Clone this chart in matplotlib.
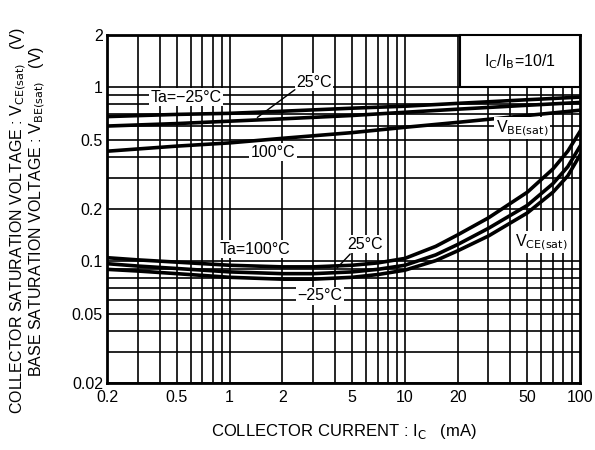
import numpy as np
import matplotlib
matplotlib.use("Agg")
import matplotlib.pyplot as plt
from matplotlib.ticker import FixedLocator, NullFormatter
from matplotlib.patches import Rectangle

plt.rcParams['font.family'] = ['Liberation Sans Narrow', 'Liberation Sans', 'DejaVu Sans']

# ---------------- Datos ----------------
x_vbe = [0.2, 0.5, 1, 2, 5, 10, 20, 50, 100]
vbe_m25 = [0.68, 0.70, 0.71, 0.73, 0.76, 0.78, 0.81, 0.85, 0.88]
vbe_25 = [0.60, 0.62, 0.64, 0.66, 0.69, 0.72, 0.75, 0.79, 0.82]
vbe_100 = [0.43, 0.46, 0.48, 0.51, 0.55, 0.59, 0.63, 0.69, 0.74]

x_vce = [0.2, 0.3, 0.5, 1, 2, 3, 5, 7, 10, 15, 20, 30, 50, 70, 85, 100]
vce_100 = [0.105, 0.102, 0.099, 0.095, 0.093, 0.093, 0.095, 0.098, 0.104, 0.122, 0.142, 0.178, 0.25, 0.34, 0.43, 0.56]
vce_25 = [0.097, 0.094, 0.091, 0.087, 0.085, 0.085, 0.087, 0.090, 0.095, 0.109, 0.125, 0.155, 0.21, 0.28, 0.35, 0.46]
vce_m25 = [0.090, 0.088, 0.085, 0.081, 0.079, 0.079, 0.081, 0.084, 0.089, 0.101, 0.115, 0.14, 0.19, 0.25, 0.31, 0.41]

x_ticks = [0.2, 0.5, 1, 2, 5, 10, 20, 50, 100]
x_labels = ["0.2", "0.5", "1", "2", "5", "10", "20", "50", "100"]
y_ticks = [0.02, 0.05, 0.1, 0.2, 0.5, 1, 2]
y_labels = ["0.02", "0.05", "0.1", "0.2", "0.5", "1", "2"]

# líneas de la cuadrícula (1..9 por década)
x_grid = [m * 10.0**e for e in (-1, 0, 1) for m in range(1, 10)]
y_grid = [m * 10.0**e for e in (-2, -1, 0) for m in range(1, 10)]

fig = plt.figure(figsize=(5.95, 4.5), dpi=100)
ax = fig.add_axes([0.180, 0.149, 0.795, 0.773])
ax.set_xscale("log")
ax.set_yscale("log")
ax.set_xlim(0.2, 100)
ax.set_ylim(0.02, 2)

ax.xaxis.set_major_locator(FixedLocator(x_ticks))
ax.xaxis.set_major_formatter(plt.FixedFormatter(x_labels))
ax.yaxis.set_major_locator(FixedLocator(y_ticks))
ax.yaxis.set_major_formatter(plt.FixedFormatter(y_labels))
ax.xaxis.set_minor_locator(FixedLocator(x_grid))
ax.yaxis.set_minor_locator(FixedLocator(y_grid))
ax.xaxis.set_minor_formatter(NullFormatter())
ax.yaxis.set_minor_formatter(NullFormatter())
ax.xaxis.remove_overlapping_locs = False
ax.yaxis.remove_overlapping_locs = False
ax.tick_params(which="both", length=0)
ax.tick_params(axis="x", pad=5, labelsize=11.5)
ax.tick_params(axis="y", pad=3, labelsize=11.5)
ax.grid(True, which="minor", color="black", linewidth=1.2)
ax.grid(False, which="major")
for s in ax.spines.values():
    s.set_linewidth(2.0)

# ---------------- Curvas ----------------
for yv in (vbe_m25, vbe_25, vbe_100):
    ax.plot(x_vbe, yv, color="black", linewidth=2.6, zorder=3)
for yv in (vce_100, vce_25, vce_m25):
    ax.plot(x_vce, yv, color="black", linewidth=2.6, zorder=3)

# ---------------- Etiquetas ----------------
def px(xp, yp):
    return ((xp - 107) / 473.0, (383 - yp) / 348.0)

box = dict(facecolor="white", edgecolor="none", pad=1.0)
tk = dict(transform=ax.transAxes, fontsize=11.5, ha="center", va="center", zorder=5)

ax.add_patch(Rectangle(px(460, 87), 1 - px(460, 87)[0], 1 - px(460, 87)[1],
                       transform=ax.transAxes, facecolor="white",
                       edgecolor="black", linewidth=1.5, zorder=4, clip_on=False))
ax.text(*px(520, 62), r"I$_{\rm C}$/I$_{\rm B}$=10/1", **tk)

ax.text(*px(186, 97), "Ta=−25°C", bbox=box, **tk)
ax.text(*px(314, 82), "25°C", bbox=box, **tk)
ax.annotate("", xy=px(255, 119), xytext=px(297, 88), xycoords="axes fraction",
            arrowprops=dict(arrowstyle="-", color="black", lw=1.0), zorder=5)
ax.text(*px(273, 152), "100°C", bbox=box, **tk)
ax.text(*px(522, 128), r"V$_{\rm BE(sat)}$", bbox=box, **tk)

ax.text(*px(255, 249), "Ta=100°C", bbox=box, **tk)
ax.text(*px(365, 244), "25°C", bbox=box, **tk)
ax.annotate("", xy=px(335, 270), xytext=px(352, 252), xycoords="axes fraction",
            arrowprops=dict(arrowstyle="-", color="black", lw=1.0), zorder=5)
ax.text(*px(320, 296), "−25°C", bbox=box, **tk)
ax.text(*px(541, 242), r"V$_{\rm CE(sat)}$", bbox=box, **tk)

ax.set_xlabel(r"COLLECTOR CURRENT : I$_{\rm C}$   (mA)", fontsize=12, labelpad=12)
fig.text(0.030, 0.51, r"COLLECTOR SATURATION VOLTAGE : V$_{\rm CE(sat)}$   (V)",
         rotation=90, ha="center", va="center", fontsize=11.5)
fig.text(0.063, 0.53, r"BASE SATURATION VOLTAGE : V$_{\rm BE(sat)}$   (V)",
         rotation=90, ha="center", va="center", fontsize=11.5)

fig.savefig("out.png", dpi=100)
